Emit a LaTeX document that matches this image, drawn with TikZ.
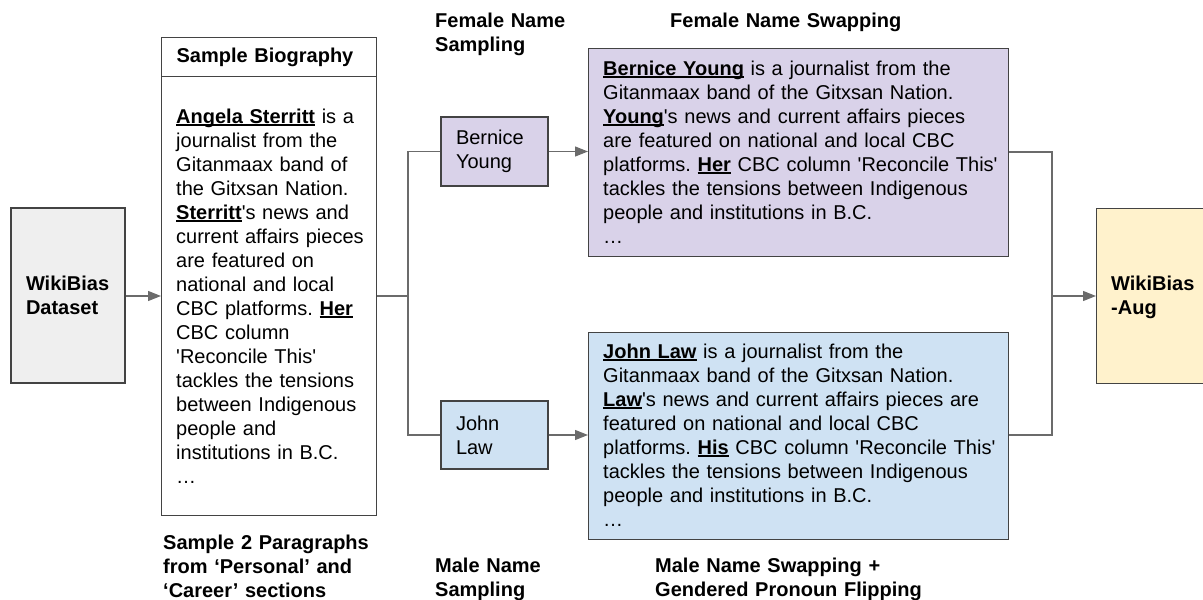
\documentclass[tikz,border=0pt]{standalone}
\usepackage{fontspec}
\setmainfont{Liberation Sans}
\usetikzlibrary{arrows.meta}
\definecolor{edgecol}{HTML}{434343}
\definecolor{wirecol}{HTML}{6b6b6b}
\definecolor{graybg}{HTML}{EFEFEF}
\definecolor{lavbg}{HTML}{D9D2E9}
\definecolor{bluebg}{HTML}{CFE2F3}
\definecolor{yelbg}{HTML}{FFF2CC}
\newcommand\nameul[1]{\leavevmode\setbox0\hbox{\textbf{#1}}\rlap{\rule[-2.6pt]{\wd0}{1.3pt}}\box0\relax}
\newcommand\sq{\textquotesingle}
\frenchspacing
\begin{document}
\begin{tikzpicture}[x=1pt,y=-1pt,
  txt/.style={font=\fontsize{20}{24}\selectfont\frenchspacing},
  box/.style={draw=edgecol, line width=1.3pt, inner sep=0pt},
  boxtext/.style={box, txt, align=left, inner xsep=15pt},
  para/.style={txt, anchor=base west, inner sep=0pt, align=left, text width=420pt},
  caption/.style={txt, font=\fontsize{20}{24}\selectfont\bfseries, anchor=base west, inner sep=0pt, align=left, text width=300pt},
  wire/.style={draw=wirecol, line width=1.3pt},
  arr/.style={wire, -{Triangle[length=13pt,width=10pt]}}
]
\useasboundingbox (0,0) rectangle (1203,600);

% WikiBias Dataset
\node[boxtext, fill=graybg, minimum width=114pt, minimum height=175pt, text width=84pt, font=\fontsize{20}{24}\selectfont\bfseries] (ds) at (68,295.5) {WikiBias\\Dataset};

% Sample biography
\node[box, minimum width=215pt, minimum height=439pt, anchor=north west] (sbb) at (161,76) {};
\node[boxtext, minimum width=215pt, minimum height=39pt, text width=185pt, anchor=north west, font=\fontsize{20}{24}\selectfont\bfseries] (sbh) at (161,37) {Sample Biography};
\node[para] (sbt) at (176,123) {\nameul{Angela Sterritt} is a\\journalist from the\\Gitanmaax band of\\the Gitxsan Nation.\\\nameul{Sterritt}\sq s news and\\current affairs pieces\\are featured on\\national and local\\CBC platforms. \nameul{Her}\\CBC column\\\sq Reconcile This\sq\\tackles the tensions\\between Indigenous\\people and\\institutions in B.C.\\\ldots};

% Name boxes
\node[boxtext, fill=lavbg, minimum width=107pt, minimum height=69pt, text width=77pt] (fn) at (494.5,151.5) {Bernice\\Young};
\node[boxtext, fill=bluebg, minimum width=107pt, minimum height=68pt, text width=77pt] (mn) at (494.5,435) {John\\Law};

% Swapped paragraphs
\node[box, fill=lavbg, minimum width=420pt, minimum height=208pt, anchor=north west] (fs) at (588,48) {};
\node[para] (fst) at (603,75) {\nameul{Bernice Young} is a journalist from the\\Gitanmaax band of the Gitxsan Nation.\\\nameul{Young}\sq s news and current affairs pieces\\are featured on national and local CBC\\platforms. \nameul{Her} CBC column \sq Reconcile This\sq\\tackles the tensions between Indigenous\\people and institutions in B.C.\\\ldots};
\node[box, fill=bluebg, minimum width=420pt, minimum height=207pt, anchor=north west] (ms) at (588,332) {};
\node[para] (mst) at (603,358) {\nameul{John Law} is a journalist from the\\Gitanmaax band of the Gitxsan Nation.\\\nameul{Law}\sq s news and current affairs pieces are\\featured on national and local CBC\\platforms. \nameul{His} CBC column \sq Reconcile This\sq\\tackles the tensions between Indigenous\\people and institutions in B.C.\\\ldots};

% Output
\node[box, fill=yelbg, minimum width=130pt, minimum height=175pt, anchor=north west] (aug) at (1096,208) {};
\node[caption] (augt) at (1111,290) {WikiBias\\-Aug};

% Captions
\node[caption] (c1) at (163,549) {Sample 2 Paragraphs\\from ‘Personal’ and\\‘Career’ sections};
\node[caption] (c2) at (435,27) {Female Name\\Sampling};
\node[caption] (c3) at (670,27) {Female Name Swapping};
\node[caption] (c4) at (435,572) {Male Name\\Sampling};
\node[caption] (c5) at (655,572) {Male Name Swapping +\\Gendered Pronoun Flipping};

% Connectors
\coordinate (split) at (408,296);
\coordinate (join) at (1052,296);
\draw[arr] (ds.east |- 0,296) -- (sbb.west |- 0,296);
\draw[wire] (sbb.east |- split) -- (split);
\draw[wire] (fn.west) -| (split) |- (mn.west);
\draw[arr] (fn.east) -- (fs.west |- fn.east);
\draw[arr] (mn.east) -- (ms.west |- mn.east);
\draw[wire] (fs.east |- 0,152) -| (join) |- (ms.east |- 0,435);
\draw[arr] (join) -- (aug.west |- join);
\end{tikzpicture}
\end{document}
